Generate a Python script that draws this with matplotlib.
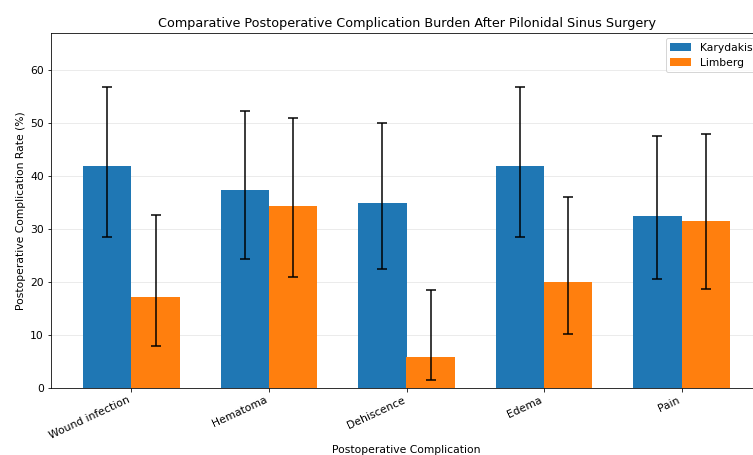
import numpy as np
import matplotlib
matplotlib.use("Agg")
import matplotlib.pyplot as plt

# ---------------------------------------------------------------------------
# data
# ---------------------------------------------------------------------------
complications = ["Wound infection", "Hematoma", "Dehiscence", "Edema", "Pain"]

karydakis = [41.9, 37.3, 34.9, 41.9, 32.5]
karydakis_low = [28.5, 24.3, 22.4, 28.5, 20.5]
karydakis_high = [56.7, 52.2, 49.9, 56.7, 47.5]

limberg = [17.1, 34.3, 5.8, 20.0, 31.5]
limberg_low = [8.0, 20.9, 1.5, 10.1, 18.6]
limberg_high = [32.6, 50.9, 18.5, 35.9, 47.9]

# ---------------------------------------------------------------------------
# plot
# ---------------------------------------------------------------------------
plt.rcParams["font.size"] = 10.7

fig = plt.figure(figsize=(753 / 72, 455 / 72), dpi=72)
# axes run past the right edge, as in the reference (cropped figure)
ax = fig.add_axes([51 / 753, 67 / 455, 711 / 753, 355 / 455])

x = np.arange(len(complications))
width = 0.35

k = np.array(karydakis)
l = np.array(limberg)
k_err = [k - np.array(karydakis_low), np.array(karydakis_high) - k]
l_err = [l - np.array(limberg_low), np.array(limberg_high) - l]

ax.bar(x - width / 2, k, width, yerr=k_err, capsize=5, label="Karydakis",
       color="#1f77b4", error_kw=dict(elinewidth=1.5, capthick=1.5))
ax.bar(x + width / 2, l, width, yerr=l_err, capsize=5, label="Limberg",
       color="#ff7f0e", error_kw=dict(elinewidth=1.5, capthick=1.5))

ax.set_xticks(x)
ax.set_xticklabels(complications, rotation=25, ha="right")
ax.set_ylim(0, 66.9)
ax.set_xlabel("Postoperative Complication")
ax.set_ylabel("Postoperative Complication Rate (%)")
ax.set_title("Comparative Postoperative Complication Burden After Pilonidal Sinus Surgery",
             fontsize=12.8)
ax.yaxis.grid(True, alpha=0.3)
ax.set_axisbelow(True)
ax.legend(loc="upper right")

fig.savefig("out.png", dpi=72)
